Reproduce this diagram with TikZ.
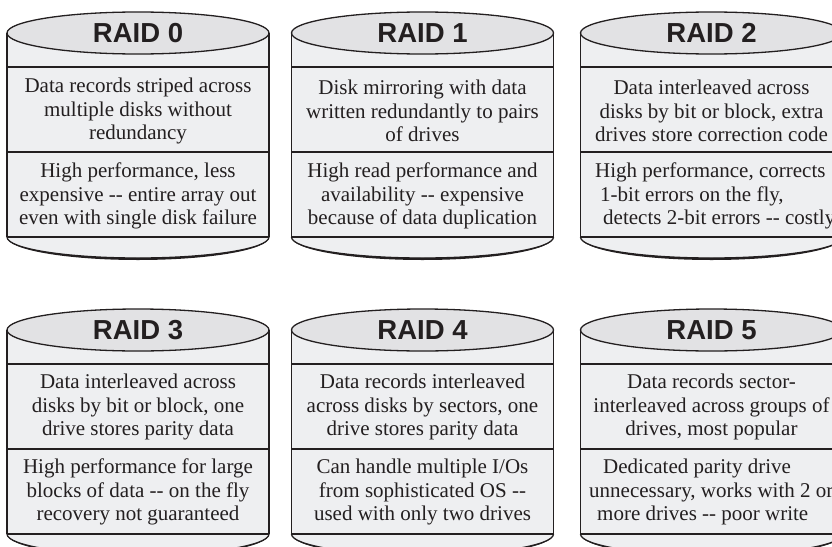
\documentclass[tikz,border=0pt]{standalone}
\usepackage{fontspec}
\setmainfont{Liberation Serif}
\newfontfamily\headfont{Liberation Sans}
\usetikzlibrary{positioning}

\definecolor{disktop}{HTML}{E2E2E4}
\definecolor{diskbody}{HTML}{EEEFF1}
\definecolor{diskline}{HTML}{231F20}
\newcommand{\dd}{-{}-}

\begin{document}
\begin{tikzpicture}[x=1pt, y=1pt,
    title/.style={font=\headfont\bfseries\fontsize{27.5}{30}\selectfont, text=diskline},
    info/.style={font=\fontsize{21}{23.5}\selectfont, align=center, text=diskline, inner sep=0pt},
    rim/.style={draw=diskline, line width=1.3pt}
]
\clip (0,0) rectangle (832,-546);

% cylinders
\foreach \cx/\cy in {138/-33, 422.5/-33, 711.5/-33, 138/-330, 422.5/-330, 711.5/-330} {
  \fill[diskbody] (\cx-131,\cy) -- (\cx-131,\cy-204)
    arc[start angle=180, end angle=360, x radius=131, y radius=21] -- (\cx+131,\cy) -- cycle;
  \fill[diskline] (\cx-131,\cy-204) arc[start angle=180, end angle=360, x radius=131, y radius=23]
    arc[start angle=0, end angle=-180, x radius=131, y radius=21] -- cycle;
  \draw[rim, fill=disktop] (\cx,\cy) ellipse[x radius=131, y radius=21];
  \draw[rim] (\cx-131,\cy) -- (\cx-131,\cy-204);
  \draw[rim] (\cx+131,\cy) -- (\cx+131,\cy-204);
  \draw[rim] (\cx-131,\cy-34) -- (\cx+131,\cy-34);
  \draw[rim] (\cx-131,\cy-119) -- (\cx+131,\cy-119);
  \draw[rim] (\cx-131,\cy-204) -- (\cx+131,\cy-204);
  \draw[rim] (\cx-131,\cy-204) arc[start angle=180, end angle=360, x radius=131, y radius=21];
}

% top row
\node[title] (raid0) at (138,-33) {RAID 0};
\node[info] (raid0desc) at (138,-111) {Data records striped across\\multiple disks without\\redundancy};
\node[info] (raid0note) at (138,-196) {High performance, less\\expensive \dd{} entire array out\\even with single disk failure};

\node[title] (raid1) at (422.5,-33) {RAID 1};
\node[info] (raid1desc) at (422.5,-111) {Disk mirroring with data\\written redundantly to pairs\\of drives};
\node[info] (raid1note) at (422.5,-196) {High read performance and\\availability \dd{} expensive\\because of data duplication};

\node[title] (raid2) at (711.5,-33) {RAID 2};
\node[info] (raid2desc) at (711.5,-111) {Data interleaved across\\disks by bit or block, extra\\drives store correction code};
\node[info, align=left, anchor=west] (raid2note) at (595,-196) {High performance, corrects\\\hspace*{5pt}1-bit errors on the fly,\\\hspace*{8pt}detects 2-bit errors \dd{} costly};

% bottom row
\node[title] (raid3) at (138,-330) {RAID 3};
\node[info] (raid3desc) at (138,-407) {Data interleaved across\\disks by bit or block, one\\drive stores parity data};
\node[info] (raid3note) at (138,-492) {High performance for large\\blocks of data \dd{} on the fly\\recovery not guaranteed};

\node[title] (raid4) at (422.5,-330) {RAID 4};
\node[info] (raid4desc) at (422.5,-407) {Data records interleaved\\across disks by sectors, one\\drive stores parity data};
\node[info] (raid4note) at (422.5,-492) {Can handle multiple I/Os\\from sophisticated OS \dd\\used with only two drives};

\node[title] (raid5) at (711.5,-330) {RAID 5};
\node[info] (raid5desc) at (711.5,-407) {Data records sector-\\interleaved across groups of\\drives, most popular};
\node[info, align=left, anchor=west] (raid5note) at (589,-492) {\hspace*{14pt}Dedicated parity drive\\unnecessary, works with 2 or\\\hspace*{8pt}more drives \dd{} poor write};
\end{tikzpicture}
\end{document}
